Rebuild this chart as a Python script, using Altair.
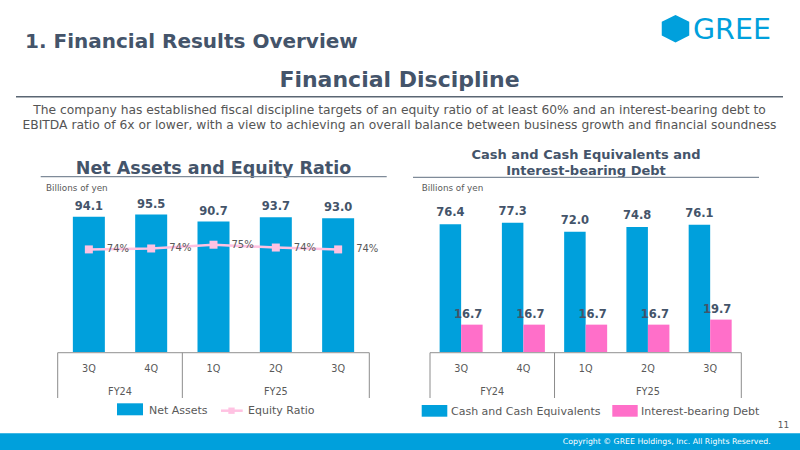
import altair as alt
import pandas as pd

FONT = "DejaVu Sans"
NAVY = "#44546A"
GRAY = "#595959"
BLUE = "#00A0DC"
PINK = "#FF6FC9"
LIGHT_PINK = "#FFC2E2"
AXIS_GRAY = "#A6A6A6"
SEP_GRAY = "#8C8C8C"
RULE_GRAY = "#7F8B99"

# ---------------- data ----------------
quarters = ["3Q", "4Q", "1Q", "2Q", "3Q"]
fiscal_years = ["FY24", "FY24", "FY25", "FY25", "FY25"]
net_assets = [94.1, 95.5, 90.7, 93.7, 93.0]          # billions of yen
equity_ratio = [74.0, 74.2, 75.0, 74.4, 74.0]        # percent
cash = [76.4, 77.3, 72.0, 74.8, 76.1]                # billions of yen
debt = [16.7, 16.7, 16.7, 16.7, 19.7]                # billions of yen

n = len(quarters)
qdf = pd.DataFrame({
    "pos": [i + 0.5 for i in range(n)],
    "quarter": quarters,
    "fy": fiscal_years,
    "net_assets": net_assets,
    "equity_ratio": equity_ratio,
    "ratio_label": [f"{round(v)}%" for v in equity_ratio],
    "cash": cash,
    "debt": debt,
})

# fiscal-year groups derived from the category list
groups = []
start = 0
for i in range(1, n + 1):
    if i == n or fiscal_years[i] != fiscal_years[start]:
        groups.append((fiscal_years[start], start, i))
        start = i
grp = pd.DataFrame({"fy": [g[0] for g in groups], "mid": [(g[1] + g[2]) / 2 for g in groups]})
bnd = pd.DataFrame({"b": sorted({0} | {g[2] for g in groups})})

one = pd.DataFrame({"k": [0]})

BASE_Y = 352.7  # pixel row of the zero line in both panels


# ---------------- helpers for slide decoration ----------------
def text(t, x, y, size, color=GRAY, weight="normal", align="left", baseline="middle"):
    return alt.Chart(one).mark_text(
        text=t, fontSize=size, fontWeight=weight, color=color,
        align=align, baseline=baseline, font=FONT
    ).encode(x=alt.value(x), y=alt.value(y))


def hline(x1, x2, y, color, width=1.0):
    return alt.Chart(one).mark_rule(color=color, strokeWidth=width).encode(
        x=alt.value(x1), x2=alt.value(x2), y=alt.value(y))


def rect(x1, x2, y1, y2, color):
    return alt.Chart(one).mark_rect(color=color).encode(
        x=alt.value(x1), x2=alt.value(x2), y=alt.value(y1), y2=alt.value(y2))


def category_axis(xs, ys):
    base = alt.Chart(one).mark_rule(color=AXIS_GRAY, strokeWidth=1.2).encode(
        x=alt.X(datum=0, scale=xs, axis=None), x2=alt.datum(n),
        y=alt.Y(datum=0, scale=ys, axis=None))
    seps = alt.Chart(bnd).mark_rule(color=SEP_GRAY, strokeWidth=1).encode(
        x=alt.X("b:Q", scale=xs, axis=None),
        y=alt.Y(datum=0, scale=ys, axis=None), y2=alt.value(398))
    qlab = alt.Chart(qdf).mark_text(fontSize=9.7, color=GRAY, font=FONT).encode(
        x=alt.X("pos:Q", scale=xs, axis=None), y=alt.value(369), text="quarter:N")
    flab = alt.Chart(grp).mark_text(fontSize=9.7, color=GRAY, font=FONT).encode(
        x=alt.X("mid:Q", scale=xs, axis=None), y=alt.value(391.7), text="fy:N")
    return [base, seps, qlab, flab]


# ---------------- slide header and footer (drawn across the full width) ----------------
hexagon = "M0,-1L1,-0.5L1,0.5L0,1L-1,0.5L-1,-0.5Z"
slide_frame = [
    text("1. Financial Results Overview", 25, 48, 20, NAVY, "bold", baseline="alphabetic"),
    alt.Chart(one).mark_point(shape=hexagon, filled=True, size=756, color=BLUE, opacity=1).encode(
        x=alt.value(675.5), y=alt.value(28.7)),
    text("GREE", 693, 39, 28.5, BLUE, baseline="alphabetic"),
    text("Financial Discipline", 399.5, 87.3, 22, NAVY, "bold", align="center", baseline="alphabetic"),
    hline(16, 783, 96.7, "#5A6673", 1.5),
    text("The company has established fiscal discipline targets of an equity ratio of at least 60% and an interest-bearing debt to",
         399.5, 114, 12.3, "#555555", align="center", baseline="alphabetic"),
    text("EBITDA ratio of 6x or lower, with a view to achieving an overall balance between business growth and financial soundness",
         399.5, 129, 12.3, "#555555", align="center", baseline="alphabetic"),
    rect(0, 800, 433.3, 450, BLUE),
    text("Copyright © GREE Holdings, Inc. All Rights Reserved.", 770.7, 441.5, 7.8, "white", align="right"),
    text("11", 789.3, 425, 9, GRAY, align="right"),
]

# ---------------- left panel: Net Assets and Equity Ratio ----------------
xs_l = alt.Scale(domain=[0, n], range=[52.7, 374.3])
ys_l = alt.Scale(domain=[0, 100], range=[BASE_Y, BASE_Y - 144.6])
ys_r = alt.Scale(domain=[52.0, 82.8], range=[BASE_Y, BASE_Y - 144.6])

bars_l = alt.Chart(qdf).mark_bar(width=32, color=BLUE).encode(
    x=alt.X("pos:Q", scale=xs_l, axis=None),
    y=alt.Y("net_assets:Q", scale=ys_l, axis=None))
bars_l_lbl = alt.Chart(qdf).mark_text(
    baseline="alphabetic", dy=-7, fontSize=11.5, fontWeight="bold", color=NAVY, font=FONT
).encode(
    x=alt.X("pos:Q", scale=xs_l, axis=None),
    y=alt.Y("net_assets:Q", scale=ys_l, axis=None),
    text=alt.Text("net_assets:Q", format=".1f"))
bar_group_l = alt.layer(bars_l, bars_l_lbl, *category_axis(xs_l, ys_l))

ratio_line = alt.Chart(qdf).mark_line(color=LIGHT_PINK, strokeWidth=2.5).encode(
    x=alt.X("pos:Q", scale=xs_l, axis=None),
    y=alt.Y("equity_ratio:Q", scale=ys_r, axis=None))
ratio_pts = alt.Chart(qdf).mark_point(shape="square", filled=True, size=64, color=LIGHT_PINK, opacity=1).encode(
    x=alt.X("pos:Q", scale=xs_l, axis=None),
    y=alt.Y("equity_ratio:Q", scale=ys_r, axis=None))
ratio_lbl = alt.Chart(qdf).mark_text(align="left", dx=18, fontSize=10, color=GRAY, font=FONT).encode(
    x=alt.X("pos:Q", scale=xs_l, axis=None),
    y=alt.Y("equity_ratio:Q", scale=ys_r, axis=None),
    text="ratio_label:N")
line_group = alt.layer(ratio_line, ratio_pts, ratio_lbl)

left = alt.layer(
    *slide_frame,
    text("Net Assets and Equity Ratio", 213.5, 174, 17.5, NAVY, "bold", align="center", baseline="alphabetic"),
    hline(40.7, 386.7, 176.7, RULE_GRAY, 1.2),
    text("Billions of yen", 46, 187.7, 8.8, GRAY),
    bar_group_l,
    line_group,
    rect(117, 143, 403.3, 415.3, BLUE),
    text("Net Assets", 149, 410.7, 11, GRAY),
    hline(221, 242.7, 410.7, LIGHT_PINK, 2.5),
    alt.Chart(one).mark_point(shape="square", filled=True, size=40, color=LIGHT_PINK, opacity=1).encode(
        x=alt.value(231.5), y=alt.value(410.7)),
    text("Equity Ratio", 248, 410.7, 11, GRAY),
).resolve_scale(y="independent").properties(width=400, height=450)

# ---------------- right panel: Cash and Interest-bearing Debt ----------------
xs_c = alt.Scale(domain=[0, n], range=[25, 346.3])
ys_c = alt.Scale(domain=[0, 100], range=[BASE_Y, BASE_Y - 168])

cash_bars = alt.Chart(qdf).mark_bar(width=21.5, xOffset=-10.75, color=BLUE).encode(
    x=alt.X("pos:Q", scale=xs_c, axis=None),
    y=alt.Y("cash:Q", scale=ys_c, axis=None))
debt_bars = alt.Chart(qdf).mark_bar(width=21.5, xOffset=10.75, color=PINK).encode(
    x=alt.X("pos:Q", scale=xs_c, axis=None),
    y=alt.Y("debt:Q", scale=ys_c, axis=None))
cash_lbl = alt.Chart(qdf).mark_text(
    baseline="alphabetic", dx=-10.75, dy=-8, fontSize=11.5, fontWeight="bold", color=NAVY, font=FONT
).encode(
    x=alt.X("pos:Q", scale=xs_c, axis=None),
    y=alt.Y("cash:Q", scale=ys_c, axis=None),
    text=alt.Text("cash:Q", format=".1f"))
debt_lbl = alt.Chart(qdf).mark_text(
    baseline="alphabetic", dx=7, dy=-7, fontSize=11.5, fontWeight="bold", color=NAVY, font=FONT
).encode(
    x=alt.X("pos:Q", scale=xs_c, axis=None),
    y=alt.Y("debt:Q", scale=ys_c, axis=None),
    text=alt.Text("debt:Q", format=".1f"))

right = alt.layer(
    text("Cash and Cash Equivalents and", 186, 159.3, 13, NAVY, "bold", align="center", baseline="alphabetic"),
    text("Interest-bearing Debt", 186, 175, 13, NAVY, "bold", align="center", baseline="alphabetic"),
    hline(13, 359, 177.3, RULE_GRAY, 1.2),
    text("Billions of yen", 21.7, 187.7, 8.8, GRAY),
    cash_bars, debt_bars, cash_lbl, debt_lbl,
    *category_axis(xs_c, ys_c),
    rect(21.7, 47.3, 405, 416.7, BLUE),
    text("Cash and Cash Equivalents", 51, 411.5, 11, GRAY),
    rect(212.3, 237.7, 405, 416.7, PINK),
    text("Interest-bearing Debt", 241, 411.5, 11, GRAY),
).properties(width=400, height=450)

chart = alt.hconcat(left, right, spacing=0, bounds="flush").properties(
    padding=0, background="white"
).configure_view(stroke=None)

chart.save("out.html", embed_options={"renderer": "svg", "actions": False})
